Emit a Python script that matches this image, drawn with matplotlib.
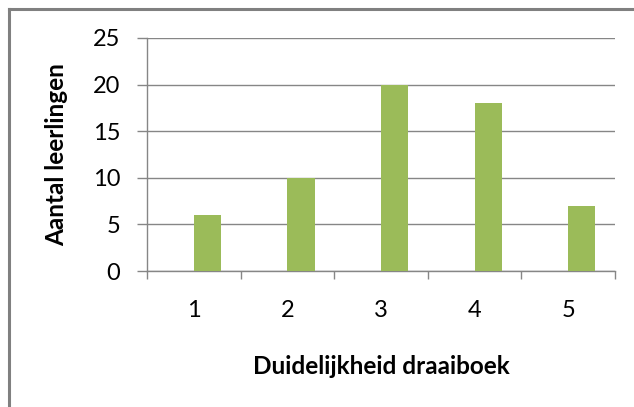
import matplotlib
matplotlib.use('Agg')
import matplotlib.pyplot as plt
from matplotlib.lines import Line2D
import numpy as np

categories = ['1', '2', '3', '4', '5']
leerlingen = [6, 10, 20, 18, 7]
y_ticks = [0, 5, 10, 15, 20, 25]

plt.rcParams['font.family'] = ['Lato', 'DejaVu Sans']

W, H = 634, 407
fig = plt.figure(figsize=(W / 100, H / 100), dpi=100)
ax = fig.add_axes([147 / W, 1 - 271 / H, (615 - 147) / W, (271 - 38) / H])

grey = '#868686'
x = np.arange(len(categories))
ax.bar(x, leerlingen, width=0.29, align='edge', color='#9BBB59', zorder=3)

ax.set_xlim(-0.5, len(categories) - 0.5)
ax.set_ylim(0, 25)
ax.set_yticks(y_ticks)
ax.set_yticklabels([str(t) for t in y_ticks])
ax.yaxis.grid(True, color=grey, linewidth=1.0, zorder=0)
ax.set_axisbelow(True)

# category boundaries as major ticks, labels on minor ticks
ax.set_xticks(np.arange(-0.5, len(categories), 1.0))
ax.set_xticklabels([])
ax.set_xticks(x, minor=True)
ax.set_xticklabels(categories, minor=True)
ax.tick_params(axis='x', which='major', length=6, width=1.0, color=grey, direction='out')
ax.tick_params(axis='x', which='minor', length=0, pad=21, labelsize=17)
ax.tick_params(axis='y', length=7.2, width=1.0, color=grey, direction='out', pad=12, labelsize=17)

for s in ['top', 'right']:
    ax.spines[s].set_visible(False)
for s in ['left', 'bottom']:
    ax.spines[s].set_color(grey)
    ax.spines[s].set_linewidth(1.0)

fig.text(57 / W, 1 - 154.5 / H, 'Aantal leerlingen', rotation=90, ha='center', va='center',
         fontsize=17.5, fontweight='bold')
fig.text(381 / W, 1 - 367 / H, 'Duidelijkheid draaiboek', ha='center', va='center',
         fontsize=17.5, fontweight='bold')

# outer frame (only top and left visible, as cropped in the original)
fig.add_artist(Line2D([8.5 / W, 1], [1 - 9 / H, 1 - 9 / H], transform=fig.transFigure,
                      color='#808080', linewidth=2.2))
fig.add_artist(Line2D([8.5 / W, 8.5 / W], [0, 1 - 9 / H], transform=fig.transFigure,
                      color='#808080', linewidth=2.2))

fig.savefig('out.png', dpi=100)
